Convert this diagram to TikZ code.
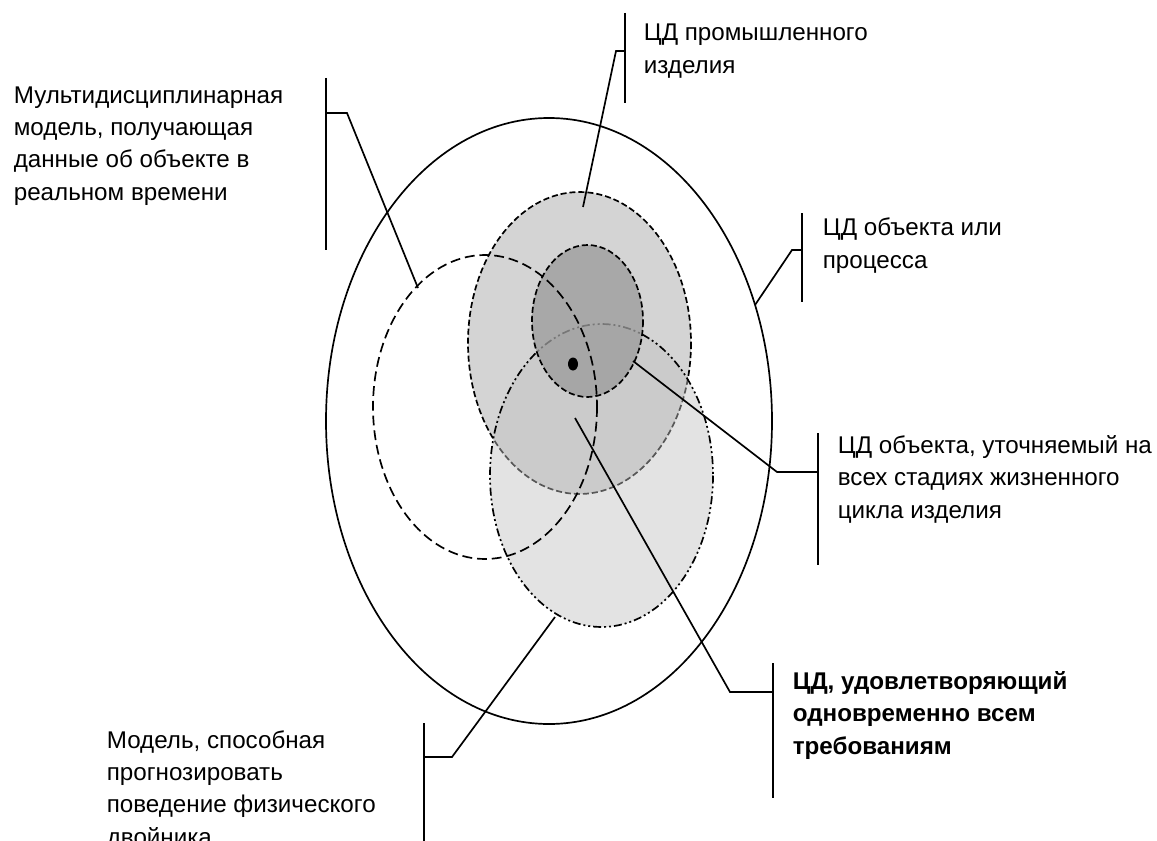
\documentclass[tikz,border=0pt]{standalone}
\usepackage{fontspec}
\setmainfont{Liberation Sans}
\definecolor{zonegray}{gray}{0.83}
\definecolor{zonelight}{gray}{0.757}
\definecolor{zonedark}{gray}{0.612}
\begin{document}
\begin{tikzpicture}[x=0.025cm, y=-0.025cm, line width=1.2pt,
    lbl/.style={anchor=base west, inner sep=0pt, align=left,
                font=\fontsize{17.2}{22.8}\selectfont},
    dashlong/.style={dash pattern=on 7pt off 3.5pt},
    dashshort/.style={dash pattern=on 4.3pt off 2.1pt},
    dashdotdot/.style={dash pattern=on 5.7pt off 2.1pt on 1.4pt off 2.1pt on 1.4pt off 2.1pt}]
    \useasboundingbox (0,0) rectangle (1157,841);
    \clip (0,0) rectangle (1157,841);

    % Define the centres of the ellipses
    \coordinate (twin) at (549,421);
    \coordinate (product) at (579.5,343);
    \coordinate (refined) at (587.5,321);
    \coordinate (predict) at (601.5,475.5);
    \coordinate (multi) at (485,407);
    \coordinate (all) at (573,364);

    % Draw the ellipses
    \draw (twin) ellipse [x radius=223, y radius=303];
    \draw[dashshort, fill=zonegray] (product) ellipse [x radius=111.5, y radius=151];
    \draw[dashdotdot, fill=zonelight, fill opacity=0.45] (predict) ellipse [x radius=111.5, y radius=151.5];
    \draw[dashshort, fill=zonedark, fill opacity=0.77] (refined) ellipse [x radius=55.5, y radius=76];
    \draw[dashlong] (multi) ellipse [x radius=112, y radius=152];
    \fill (all) ellipse [x radius=5, y radius=6.5];

    % Define the points of the callouts
    \coordinate (p1top) at (625,13);   \coordinate (p1bot) at (625,103);
    \coordinate (p1tick) at (625,51);  \coordinate (p1knee) at (616,51);
    \coordinate (p1end) at (583,207);
    \coordinate (p2top) at (326,78);   \coordinate (p2bot) at (326,250);
    \coordinate (p2tick) at (326,113); \coordinate (p2knee) at (347,113);
    \coordinate (p2end) at (418,288);
    \coordinate (p3top) at (802,213);  \coordinate (p3bot) at (802,302);
    \coordinate (p3tick) at (802,250); \coordinate (p3knee) at (792,250);
    \coordinate (p3end) at (755,305);
    \coordinate (p4top) at (818,433);  \coordinate (p4bot) at (818,565);
    \coordinate (p4tick) at (818,472); \coordinate (p4knee) at (777,472);
    \coordinate (p4end) at (633,361);
    \coordinate (p5top) at (773,663);  \coordinate (p5bot) at (773,798);
    \coordinate (p5tick) at (773,692); \coordinate (p5knee) at (730,692);
    \coordinate (p5end) at (575,418);
    \coordinate (p6top) at (424,723);  \coordinate (p6bot) at (424,860);
    \coordinate (p6tick) at (424,757); \coordinate (p6knee) at (452,757);
    \coordinate (p6end) at (555,617);

    % Draw the callouts
    \foreach \p in {p1, p2, p3, p4, p5, p6} {
        \draw (\p top) -- (\p bot);
        \draw (\p tick) -- (\p knee) -- (\p end);
    }

    % Add the labels (placed at the baseline of their last line)
    \node[lbl] (l1) at (643,73) {ЦД промышленного\\изделия};
    \node[lbl] (l2) at (13,200) {Мультидисциплинарная\\модель, получающая\\данные об объекте в\\реальном времени};
    \node[lbl] (l3) at (822,268) {ЦД объекта или\\процесса};
    \node[lbl] (l4) at (837,518) {ЦД объекта, уточняемый на\\всех стадиях жизненного\\цикла изделия};
    \node[lbl, font=\fontsize{17.2}{22.8}\selectfont\bfseries] (l5) at (792,754) {ЦД, удовлетворяющий\\одновременно всем\\требованиям};
    \node[lbl] (l6) at (106,845) {Модель, способная\\прогнозировать\\поведение физического\\двойника};
\end{tikzpicture}
\end{document}
